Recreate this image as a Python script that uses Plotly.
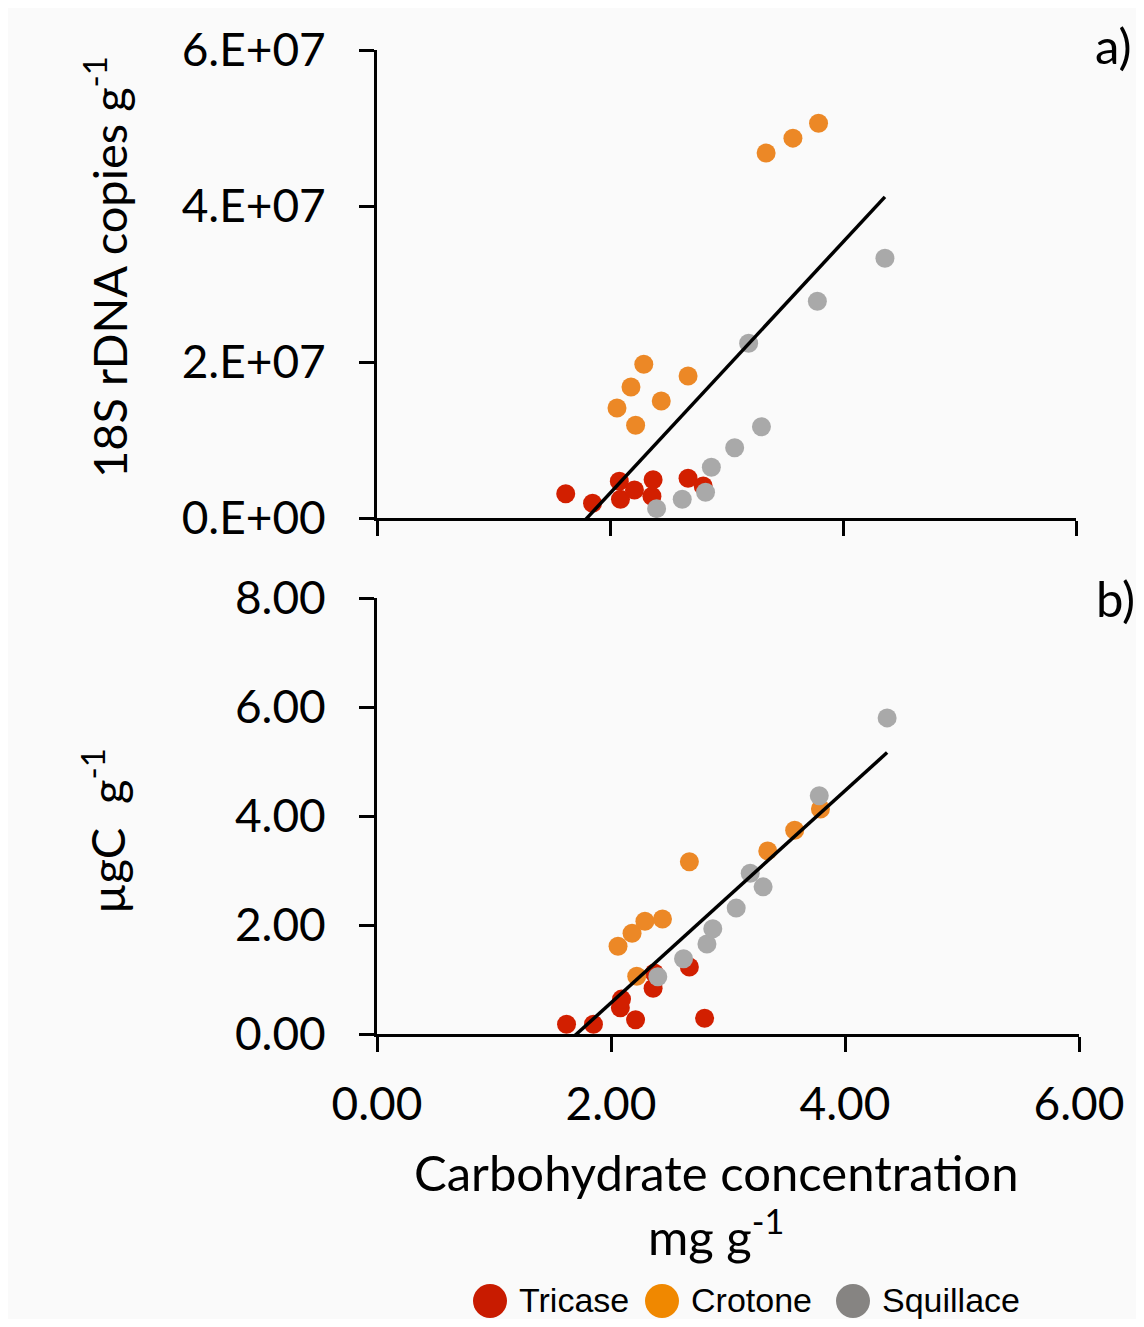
import numpy as np
import plotly.graph_objects as go

# ---------------- data ----------------
sites = ["Tricase", "Crotone", "Squillace"]
marker_colors = ["#d21f00", "#ec8826", "#a9a9a9"]
legend_colors = ["#c81b00", "#f08800", "#868482"]

# carbohydrate concentration, mg g-1
tricase_x = [1.62, 1.85, 2.08, 2.09, 2.21, 2.36, 2.37, 2.67, 2.80]
crotone_x = [2.06, 2.18, 2.22, 2.29, 2.44, 2.67, 3.34, 3.57, 3.79]
squillace_x = [2.40, 2.62, 2.82, 2.87, 3.07, 3.19, 3.30, 3.78, 4.36]

# panel a) 18S rDNA copies g-1
tricase_rdna = [3.1e6, 1.9e6, 4.7e6, 2.4e6, 3.6e6, 2.8e6, 4.9e6, 5.1e6, 4.1e6]
crotone_rdna = [1.41e7, 1.68e7, 1.19e7, 1.97e7, 1.50e7, 1.82e7, 4.68e7, 4.87e7, 5.06e7]
squillace_rdna = [1.2e6, 2.4e6, 3.3e6, 6.5e6, 9.0e6, 2.24e7, 1.17e7, 2.78e7, 3.33e7]

# panel b) ugC g-1
tricase_c = [0.18, 0.18, 0.48, 0.64, 0.26, 0.84, 1.12, 1.23, 0.29]
crotone_c = [1.61, 1.85, 1.06, 2.07, 2.11, 3.16, 3.36, 3.74, 4.13]
squillace_c = [1.05, 1.38, 1.65, 1.93, 2.31, 2.95, 2.70, 4.37, 5.80]

x_ticks = [0, 2, 4, 6]
x_ticktext = ["0.00", "2.00", "4.00", "6.00"]
rdna_ticks = [0, 2e7, 4e7, 6e7]
rdna_ticktext = ["0.E+00", "2.E+07", "4.E+07", "6.E+07"]
c_ticks = [0, 2, 4, 6, 8]
c_ticktext = ["0.00", "2.00", "4.00", "6.00", "8.00"]

xs = [tricase_x, crotone_x, squillace_x]
ys_a = [tricase_rdna, crotone_rdna, squillace_rdna]
ys_b = [tricase_c, crotone_c, squillace_c]

# ---------------- figure ----------------
OFF = 8                      # page body margin
W, H = 1144 - 2 * OFF, 1327 - 2 * OFF
def px(x):
    return (x - OFF) / W
def py(y):
    return 1 - (y - OFF) / H

FONT = "Lato"
fig = go.Figure()

for xa, ya, ys in [("x", "y", ys_a), ("x2", "y2", ys_b)]:
    for name, col, xv, yv in zip(sites, marker_colors, xs, ys):
        fig.add_trace(go.Scatter(
            x=xv, y=yv, mode="markers", name=name, showlegend=False,
            marker=dict(size=19, color=col, line=dict(width=0)),
            cliponaxis=False, xaxis=xa, yaxis=ya))
    allx = np.concatenate([np.array(v, float) for v in xs])
    ally = np.concatenate([np.array(v, float) for v in ys])
    slope, icpt = np.polyfit(allx, ally, 1)
    lx = np.array([allx.min(), allx.max()])
    fig.add_trace(go.Scatter(
        x=lx, y=slope * lx + icpt, mode="lines", showlegend=False,
        line=dict(color="black", width=3.5), xaxis=xa, yaxis=ya))

axis_common = dict(showgrid=False, zeroline=False, showline=True, linecolor="black",
                   linewidth=3, ticks="outside", ticklen=15, tickwidth=3, automargin=False,
                   tickcolor="black", tickfont=dict(family=FONT, size=46, color="black"))

fig.update_layout(
    width=W, height=H,
    margin=dict(l=0, r=0, t=0, b=0, pad=0, autoexpand=False),
    paper_bgcolor="#fafafa", plot_bgcolor="rgba(0,0,0,0)",
    showlegend=False,
    xaxis=dict(domain=[px(377), px(1076)], range=[0, 6], tickvals=x_ticks,
               showticklabels=False, anchor="y", **axis_common),
    yaxis=dict(domain=[py(518), py(50)], range=[0, 6e7], tickvals=rdna_ticks,
               ticktext=rdna_ticktext, anchor="x", ticklabelstandoff=24, **axis_common),
    xaxis2=dict(domain=[px(377), px(1079)], range=[0, 6], tickvals=x_ticks,
                ticktext=x_ticktext, anchor="y2", ticklabelstandoff=13, **axis_common),
    yaxis2=dict(domain=[py(1034), py(598)], range=[0, 8], tickvals=c_ticks,
                ticktext=c_ticktext, anchor="x2", ticklabelstandoff=24, **axis_common),
)

def ann(text, x, y, size=48, angle=0, xanchor="center", yanchor="middle", family=FONT):
    fig.add_annotation(text=text, x=px(x), y=py(y), xref="paper", yref="paper",
                       showarrow=False, textangle=angle, xanchor=xanchor, yanchor=yanchor,
                       font=dict(family=family, size=size, color="black"))

ann("18S rDNA copies g<sup>-1</sup>", 106, 267, size=47, angle=-90)
ann("µgC  g<sup>-1</sup>", 104, 831, size=47, angle=-90)
ann("Carbohydrate concentration", 716, 1172, size=49)
ann("mg g<sup>-1</sup>", 716, 1232, size=49)
ann("a)", 1113, 45, size=49)
ann("b)", 1115, 598, size=49)

# legend
leg_cx = [490, 662, 853]
leg_cy = 1301
r = 17
for name, col, cx in zip(sites, legend_colors, leg_cx):
    fig.add_shape(type="circle", xref="paper", yref="paper",
                  x0=px(cx - r), x1=px(cx + r), y0=py(leg_cy + r), y1=py(leg_cy - r),
                  fillcolor=col, line=dict(width=0))
    ann(name, cx + 27, leg_cy - 1, size=34, xanchor="left", family="Liberation Sans")

fig.write_html("out.html")
